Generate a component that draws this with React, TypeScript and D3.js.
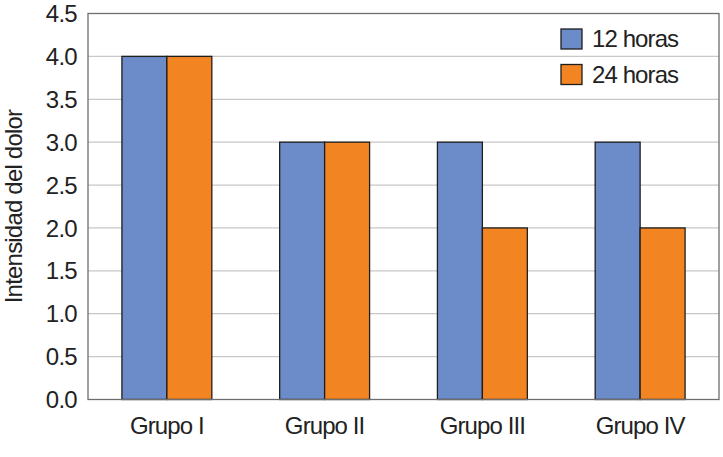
import React from "react";
import * as d3 from "d3";

const groups = ["Grupo I", "Grupo II", "Grupo III", "Grupo IV"];
const seriesNames = ["12 horas", "24 horas"];
const values12h = [4, 3, 3, 3];
const values24h = [4, 3, 2, 2];
const yTicks = [0, 0.5, 1, 1.5, 2, 2.5, 3, 3.5, 4, 4.5];
const colors = ["#6b8bc9", "#f28522"];

const W = 723;
const H = 457;
const margin = { top: 13.5, right: 4, bottom: 57.5, left: 88 };
const font = "'Liberation Sans', Arial, sans-serif";

export default function App() {
  const innerW = W - margin.left - margin.right;
  const innerH = H - margin.top - margin.bottom;

  const x0 = d3
    .scaleBand<string>()
    .domain(groups)
    .range([0, innerW])
    .paddingInner(0.43)
    .paddingOuter(0.215);

  const x1 = d3
    .scaleBand<string>()
    .domain(seriesNames)
    .range([0, x0.bandwidth()]);

  const y = d3.scaleLinear().domain([0, 4.5]).range([innerH, 0]);

  const seriesValues = [values12h, values24h];

  return (
    <svg
      width={W}
      height={H}
      style={{ position: "absolute", left: 0, top: 0, background: "#fff" }}
    >
      <g transform={`translate(${margin.left},${margin.top})`}>
        {/* grid */}
        {yTicks.slice(1, -1).map((t) => (
          <line
            key={t}
            x1={0}
            x2={innerW}
            y1={y(t)}
            y2={y(t)}
            stroke="#c8c8c8"
            strokeWidth={1.2}
          />
        ))}

        {/* bars */}
        {groups.map((g, gi) => (
          <g key={g} transform={`translate(${x0(g)},0)`}>
            {seriesNames.map((s, si) => {
              const v = seriesValues[si][gi];
              return (
                <rect
                  key={s}
                  x={x1(s)}
                  y={y(v)}
                  width={x1.bandwidth()}
                  height={innerH - y(v)}
                  fill={colors[si]}
                  stroke="#1e1e1e"
                  strokeWidth={1.3}
                />
              );
            })}
          </g>
        ))}

        {/* frame */}
        <rect
          x={0}
          y={0}
          width={innerW}
          height={innerH}
          fill="none"
          stroke="#6e6e6e"
          strokeWidth={1.3}
        />

        {/* y tick labels */}
        {yTicks.map((t) => (
          <text
            key={t}
            x={-11}
            y={y(t)}
            dy="0.36em"
            textAnchor="end"
            fontFamily={font}
            fontSize={24}
            letterSpacing={-0.7}
            fill="#222"
          >
            {d3.format(".1f")(t)}
          </text>
        ))}

        {/* x labels */}
        {groups.map((g) => (
          <text
            key={g}
            x={(x0(g) ?? 0) + x0.bandwidth() / 2}
            y={innerH + 34}
            textAnchor="middle"
            fontFamily={font}
            fontSize={24}
            letterSpacing={-0.9}
            fill="#222"
          >
            {g}
          </text>
        ))}

        {/* legend */}
        {seriesNames.map((s, si) => (
          <g key={s} transform={`translate(${561 - margin.left},${29 - margin.top + si * 35.5})`}>
            <rect width={21} height={20} fill={colors[si]} stroke="#1e1e1e" strokeWidth={1.3} />
            <text
              x={31}
              y={18}
              fontFamily={font}
              fontSize={24}
              letterSpacing={-0.9}
              fill="#222"
            >
              {s}
            </text>
          </g>
        ))}
      </g>

      {/* y axis title */}
      <text
        transform={`translate(22,${margin.top + innerH / 2}) rotate(-90)`}
        textAnchor="middle"
        fontFamily={font}
        fontSize={24}
        letterSpacing={-0.8}
        fill="#222"
      >
        Intensidad del dolor
      </text>
    </svg>
  );
}
